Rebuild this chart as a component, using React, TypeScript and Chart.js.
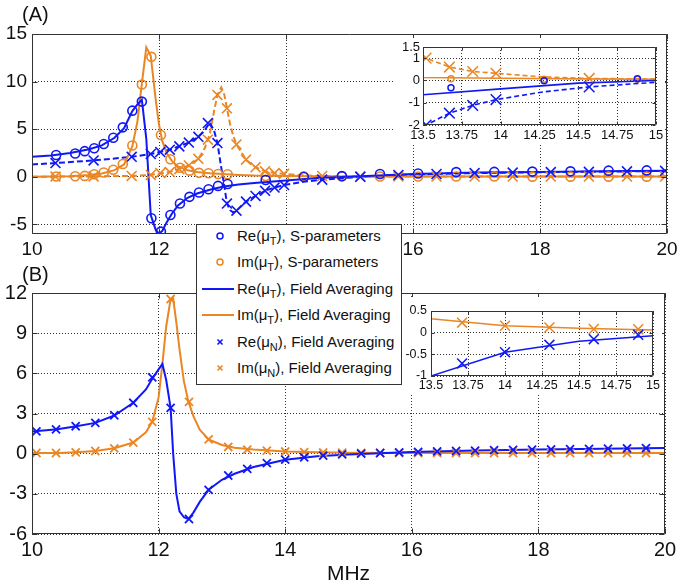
import React, { useEffect, useRef } from 'react';
import { Chart, registerables } from 'chart.js';

Chart.register(...registerables);

const BLUE = 'rgb(16,24,245)';
const ORANGE = 'rgb(234,134,36)';
const FONT = '"Liberation Sans", Arial, Helvetica, sans-serif';
const GRID = 'rgba(30,30,30,0.9)';
const FRAME = '#333';

// ---------- Panel A (S-parameters & field averaging) ----------
const sFreqA = [10.38, 10.68, 10.83, 10.98, 11.13, 11.28, 11.43, 11.58, 11.73, 11.88, 12.03, 12.18, 12.33, 12.48, 12.63, 12.78, 12.93, 13.08, 13.68, 14.28, 14.88, 15.48, 16.08, 16.68, 17.28, 17.88, 18.48, 19.08, 19.68];
const reSA = [2.3, 2.45, 2.7, 3.0, 3.45, 4.1, 5.2, 6.95, 7.9, -4.35, -5.75, -4.0, -2.8, -2.1, -1.65, -1.3, -0.95, -0.75, -0.33, -0.02, 0.08, 0.3, 0.35, 0.5, 0.52, 0.55, 0.58, 0.65, 0.68];
const imSA = [0.03, 0.07, 0.1, 0.28, 0.45, 0.75, 1.35, 3.3, 9.7, 12.6, 4.4, 1.85, 0.95, 0.65, 0.42, 0.38, 0.3, 0.27, 0.08, 0.05, 0.05, 0.04, 0.03, 0.03, 0.03, 0.02, 0.02, 0.02, 0.02];

const lineFreqA = [10.0, 10.3, 10.6, 10.9, 11.1, 11.3, 11.45, 11.58, 11.66, 11.73, 11.8, 11.87, 11.95, 12.0, 12.05, 12.12, 12.2, 12.3, 12.45, 12.6, 12.8, 13.0, 13.25, 13.5, 14.0, 14.5, 15.0, 16.0, 17.0, 18.0, 19.0, 20.0];
const reLineA = [2.1, 2.25, 2.5, 2.9, 3.3, 4.1, 5.1, 6.9, 7.6, 8.1, 4.0, -4.0, -5.6, -5.95, -5.7, -4.8, -3.9, -3.0, -2.2, -1.75, -1.35, -1.05, -0.8, -0.64, -0.38, -0.12, 0.0, 0.3, 0.45, 0.52, 0.58, 0.63];
const imLineA = [0.0, 0.03, 0.07, 0.2, 0.35, 0.7, 1.3, 3.2, 5.8, 9.8, 13.6, 12.7, 8.0, 5.5, 3.8, 2.5, 1.7, 1.1, 0.7, 0.5, 0.38, 0.3, 0.2, 0.13, 0.1, 0.07, 0.05, 0.04, 0.04, 0.04, 0.04, 0.04];

const nFreqA = [10.37, 10.97, 11.57, 11.87, 12.02, 12.17, 12.32, 12.47, 12.62, 12.77, 12.92, 13.07, 13.22, 13.37, 13.52, 13.67, 13.82, 13.97, 14.57, 15.17, 15.77, 16.37, 16.97, 17.57, 18.17, 18.77, 19.37, 19.97];
const reNA = [1.45, 1.72, 2.1, 2.4, 2.6, 2.85, 3.2, 3.6, 4.2, 5.65, 3.55, -2.8, -3.55, -2.6, -2.0, -1.47, -1.12, -0.86, -0.29, 0.0, 0.2, 0.3, 0.4, 0.45, 0.5, 0.53, 0.58, 0.63];
const imNA = [0.03, 0.05, 0.1, 0.2, 0.4, 0.5, 0.8, 1.2, 1.9, 3.9, 8.6, 7.2, 3.4, 1.8, 1.0, 0.6, 0.4, 0.32, 0.09, 0.05, 0.04, 0.03, 0.03, 0.03, 0.03, 0.03, 0.03, 0.03];

const nLineFreqA = [10.0, 10.37, 10.97, 11.57, 11.87, 12.17, 12.47, 12.62, 12.72, 12.8, 12.87, 12.92, 12.98, 13.03, 13.07, 13.12, 13.17, 13.22, 13.37, 13.52, 13.67, 13.82, 13.97, 14.27, 14.57, 15.17, 15.77, 16.37, 16.97, 17.57, 18.17, 18.77, 19.37, 20.0];
const reNLineA = [1.3, 1.45, 1.72, 2.1, 2.4, 2.85, 3.6, 4.2, 4.9, 5.7, 4.8, 3.55, 1.0, -1.0, -2.8, -3.5, -3.75, -3.55, -2.6, -2.0, -1.47, -1.12, -0.86, -0.52, -0.29, 0.0, 0.2, 0.3, 0.4, 0.45, 0.5, 0.53, 0.58, 0.63];
const imNLineA = [0.0, 0.03, 0.05, 0.1, 0.2, 0.5, 1.2, 1.9, 3.0, 4.5, 7.0, 8.6, 9.4, 8.6, 7.2, 5.5, 4.3, 3.4, 1.8, 1.0, 0.6, 0.4, 0.32, 0.16, 0.09, 0.05, 0.04, 0.03, 0.03, 0.03, 0.03, 0.03, 0.03, 0.03];

// ---------- Panel B (field averaging) ----------
const nFreqB = [10.07, 10.38, 10.69, 11.0, 11.3, 11.6, 11.9, 12.19, 12.48, 12.79, 13.1, 13.4, 13.71, 14.0, 14.3, 14.6, 14.9, 15.2, 15.5, 15.8, 16.1, 16.4, 16.7, 17.0, 17.3, 17.6, 17.9, 18.2, 18.5, 18.8, 19.1, 19.4, 19.7];
const reNB = [1.67, 1.82, 2.05, 2.3, 2.87, 3.8, 5.7, 3.42, -4.88, -2.7, -1.63, -1.13, -0.71, -0.45, -0.28, -0.15, -0.05, 0.0, 0.05, 0.1, 0.13, 0.17, 0.2, 0.23, 0.26, 0.28, 0.3, 0.32, 0.34, 0.36, 0.38, 0.4, 0.42];
const imNB = [0.05, 0.05, 0.1, 0.2, 0.4, 0.83, 2.37, 11.55, 3.87, 1.07, 0.5, 0.3, 0.23, 0.16, 0.12, 0.085, 0.08, 0.06, 0.05, 0.05, 0.05, 0.05, 0.05, 0.05, 0.05, 0.05, 0.05, 0.05, 0.05, 0.05, 0.05, 0.05, 0.05];

const lineFreqB = [10.0, 10.4, 10.7, 11.0, 11.3, 11.6, 11.8, 11.9, 12.0, 12.06, 12.12, 12.19, 12.23, 12.28, 12.33, 12.4, 12.47, 12.55, 12.65, 12.79, 13.0, 13.2, 13.5, 14.0, 14.5, 15.0, 16.0, 17.0, 18.0, 19.0, 20.0];
const reLineB = [1.65, 1.83, 2.05, 2.3, 2.85, 3.8, 4.8, 5.6, 6.3, 6.7, 5.5, 3.4, 0.0, -3.0, -4.3, -4.75, -4.88, -4.4, -3.6, -2.7, -1.95, -1.5, -1.0, -0.45, -0.2, -0.07, 0.12, 0.23, 0.31, 0.37, 0.43];
const imLineB = [0.05, 0.05, 0.1, 0.2, 0.4, 0.83, 1.6, 2.4, 4.2, 6.7, 9.5, 11.55, 11.6, 9.8, 7.8, 5.4, 3.9, 2.8, 1.8, 1.07, 0.65, 0.45, 0.32, 0.16, 0.1, 0.06, 0.05, 0.05, 0.05, 0.05, 0.05];

// ---------- Ticks ----------
const xTicksMain = [10, 12, 14, 16, 18, 20];
const yTicksA = [-5, 0, 5, 10, 15];
const yTicksB = [-6, -3, 0, 3, 6, 9, 12];
const xTicksInset = [13.5, 13.75, 14, 14.25, 14.5, 14.75, 15];
const yTicksInsetA = [-2, -1, 0, 1, 1.5];
const yTicksInsetB = [-1, -0.5, 0, 0.5];

// ---------- Legend labels ----------
const legendItems = [
  { part: 'Re', sub: 'T', tail: 'S-parameters', color: BLUE, kind: 'circle' },
  { part: 'Im', sub: 'T', tail: 'S-parameters', color: ORANGE, kind: 'circle' },
  { part: 'Re', sub: 'T', tail: 'Field Averaging', color: BLUE, kind: 'line' },
  { part: 'Im', sub: 'T', tail: 'Field Averaging', color: ORANGE, kind: 'line' },
  { part: 'Re', sub: 'N', tail: 'Field Averaging', color: BLUE, kind: 'cross' },
  { part: 'Im', sub: 'N', tail: 'Field Averaging', color: ORANGE, kind: 'cross' },
];

const xy = (xs: number[], ys: number[]) => xs.map((x, i) => ({ x, y: ys[i] }));

const lineDs = (xs: number[], ys: number[], color: string, width: number, dash: number[] = []) => ({
  data: xy(xs, ys),
  showLine: true,
  pointRadius: 0,
  borderColor: color,
  backgroundColor: color,
  borderWidth: width,
  borderDash: dash,
  fill: false,
});

const markDs = (xs: number[], ys: number[], color: string, style: string, r: number, w: number) => ({
  data: xy(xs, ys),
  showLine: false,
  pointStyle: style,
  pointRadius: r,
  borderColor: color,
  backgroundColor: 'rgba(0,0,0,0)',
  pointBorderColor: color,
  pointBackgroundColor: 'rgba(0,0,0,0)',
  pointBorderWidth: w,
});

const framePlugin = {
  id: 'frame',
  beforeDraw(chart: any, _a: any, opts: any) {
    if (opts && opts.bg) {
      const c = chart.ctx;
      c.save();
      c.fillStyle = '#ffffff';
      c.fillRect(0, 0, chart.width, chart.height);
      c.restore();
    }
  },
  afterDraw(chart: any, _a: any, opts: any) {
    const { ctx, chartArea: a, scales } = chart;
    const L = (opts && opts.tickLen) || 0;
    const l = Math.round(a.left) + 0.5;
    const r = Math.round(a.right) - 0.5;
    const t = Math.round(a.top) + 0.5;
    const b = Math.round(a.bottom) - 0.5;
    ctx.save();
    ctx.strokeStyle = FRAME;
    ctx.lineWidth = 1;
    ctx.beginPath();
    ctx.rect(l, t, r - l, b - t);
    scales.x.ticks.forEach((tk: any) => {
      const px = Math.round(scales.x.getPixelForValue(tk.value)) + 0.5;
      ctx.moveTo(px, b);
      ctx.lineTo(px, b - L);
      ctx.moveTo(px, t);
      ctx.lineTo(px, t + L);
    });
    scales.y.ticks.forEach((tk: any) => {
      const py = Math.round(scales.y.getPixelForValue(tk.value)) + 0.5;
      ctx.moveTo(l, py);
      ctx.lineTo(l + L, py);
      ctx.moveTo(r, py);
      ctx.lineTo(r - L, py);
    });
    ctx.stroke();
    ctx.restore();
  },
};

type Cfg = {
  datasets: any[];
  xMin: number; xMax: number; xTicks: number[];
  yMin: number; yMax: number; yTicks: number[];
  padTop: number; padRight: number; yW: number; xH: number;
  fontSize: number; xPad: number; yPad: number; tickLen: number; bg: boolean;
  title?: string;
};

function makeConfig(p: Cfg): any {
  return {
    type: 'scatter',
    data: { datasets: p.datasets },
    plugins: [framePlugin],
    options: {
      responsive: false,
      maintainAspectRatio: false,
      animation: false,
      events: [],
      layout: { padding: { left: 0, right: p.padRight, top: p.padTop, bottom: 0 } },
      plugins: {
        legend: { display: false },
        tooltip: { enabled: false },
        frame: { tickLen: p.tickLen, bg: p.bg },
      },
      scales: {
        x: {
          type: 'linear',
          position: 'bottom',
          min: p.xMin,
          max: p.xMax,
          afterBuildTicks: (s: any) => { s.ticks = p.xTicks.map((v) => ({ value: v })); },
          afterFit: (s: any) => { s.height = p.xH; s.paddingLeft = 0; s.paddingRight = 0; },
          grid: { color: GRID, lineWidth: 1, drawTicks: false },
          border: { display: false, dash: [1, 2] },
          ticks: {
            font: { family: FONT, size: p.fontSize },
            color: '#111',
            padding: p.xPad,
            maxRotation: 0,
            autoSkip: false,
            callback: (v: any) => String(v),
          },
          title: p.title
            ? { display: true, text: p.title, font: { family: FONT, size: 21 }, color: '#111', padding: { top: 0, bottom: 0 } }
            : { display: false },
        },
        y: {
          type: 'linear',
          position: 'left',
          min: p.yMin,
          max: p.yMax,
          afterBuildTicks: (s: any) => { s.ticks = p.yTicks.map((v) => ({ value: v })); },
          afterFit: (s: any) => { s.width = p.yW; s.paddingTop = 0; s.paddingBottom = 0; },
          grid: { color: GRID, lineWidth: 1, drawTicks: false },
          border: { display: false, dash: [1, 2] },
          ticks: {
            font: { family: FONT, size: p.fontSize },
            color: '#111',
            padding: p.yPad,
            autoSkip: false,
            callback: (v: any) => String(v),
          },
        },
      },
    },
  };
}

function datasetsA(s: { circ: number; cross: number; lw: number; mw: number; dash: number[] }) {
  return [
    markDs(sFreqA, reSA, BLUE, 'circle', s.circ, s.mw),
    markDs(sFreqA, imSA, ORANGE, 'circle', s.circ, s.mw),
    markDs(nFreqA, reNA, BLUE, 'crossRot', s.cross, s.mw),
    markDs(nFreqA, imNA, ORANGE, 'crossRot', s.cross, s.mw),
    lineDs(lineFreqA, reLineA, BLUE, s.lw),
    lineDs(lineFreqA, imLineA, ORANGE, s.lw),
    lineDs(nLineFreqA, reNLineA, BLUE, s.lw, s.dash),
    lineDs(nLineFreqA, imNLineA, ORANGE, s.lw, s.dash),
  ];
}

function datasetsB(s: { cross: number; lw: number; mw: number }) {
  return [
    markDs(nFreqB, reNB, BLUE, 'crossRot', s.cross, s.mw),
    markDs(nFreqB, imNB, ORANGE, 'crossRot', s.cross, s.mw),
    lineDs(lineFreqB, reLineB, BLUE, s.lw),
    lineDs(lineFreqB, imLineB, ORANGE, s.lw),
  ];
}

function ChartCanvas(props: { left: number; top: number; width: number; height: number; make: () => any }) {
  const ref = useRef<HTMLCanvasElement>(null);
  useEffect(() => {
    const chart = new Chart(ref.current as HTMLCanvasElement, props.make());
    return () => chart.destroy();
  }, []);
  return (
    <canvas
      ref={ref}
      width={props.width}
      height={props.height}
      style={{ position: 'absolute', left: props.left, top: props.top, width: props.width, height: props.height, display: 'block' }}
    />
  );
}

function LegendSymbol({ kind, color }: { kind: string; color: string }) {
  if (kind === 'line') {
    return <svg width={40} height={20} style={{ position: 'absolute', left: 0, top: 0 }}><line x1={3} y1={10} x2={35} y2={10} stroke={color} strokeWidth={2} /></svg>;
  }
  if (kind === 'circle') {
    return <svg width={40} height={20} style={{ position: 'absolute', left: 0, top: 0 }}><circle cx={21} cy={10} r={3} stroke={color} strokeWidth={1.5} fill="none" /></svg>;
  }
  return (
    <svg width={40} height={20} style={{ position: 'absolute', left: 0, top: 0 }}>
      <line x1={18.5} y1={7.5} x2={23.5} y2={12.5} stroke={color} strokeWidth={1.6} />
      <line x1={23.5} y1={7.5} x2={18.5} y2={12.5} stroke={color} strokeWidth={1.6} />
    </svg>
  );
}

function Legend() {
  return (
    <div
      style={{
        position: 'absolute', left: 196, top: 224, width: 206, height: 161,
        background: '#fff', border: '1px solid #333', boxSizing: 'border-box',
        fontFamily: FONT, fontSize: 15, color: '#111',
      }}
    >
      {legendItems.map((it, i) => (
        <div key={i} style={{ position: 'absolute', left: 2, top: 1 + i * 26.4, height: 20, width: 200 }}>
          <LegendSymbol kind={it.kind} color={it.color} />
          <div style={{ position: 'absolute', left: 38, top: 0, lineHeight: '20px', whiteSpace: 'nowrap' }}>
            {it.part}(μ<span style={{ fontSize: 11, position: 'relative', top: 4 }}>{it.sub}</span>), {it.tail}
          </div>
        </div>
      ))}
    </div>
  );
}

export default function App() {
  return (
    <div style={{ position: 'fixed', left: 0, top: 0, width: 681, height: 587, background: '#fff', overflow: 'hidden' }}>
      <ChartCanvas
        left={0} top={0} width={681} height={260}
        make={() => makeConfig({
          datasets: datasetsA({ circ: 4.5, cross: 7, lw: 2, mw: 1.6, dash: [6, 3] }),
          xMin: 10, xMax: 20, xTicks: xTicksMain, yMin: -6, yMax: 15, yTicks: yTicksA,
          padTop: 34, padRight: 14, yW: 32, xH: 26, fontSize: 19, xPad: 4, yPad: 5, tickLen: 5, bg: false,
        })}
      />
      <ChartCanvas
        left={0} top={260} width={681} height={327}
        make={() => makeConfig({
          datasets: datasetsB({ cross: 5.7, lw: 2, mw: 1.8 }),
          xMin: 10, xMax: 20, xTicks: xTicksMain, yMin: -6, yMax: 12, yTicks: yTicksB,
          padTop: 33, padRight: 16, yW: 32, xH: 53, fontSize: 20, xPad: 4, yPad: 5, tickLen: 5, bg: false,
          title: 'MHz',
        })}
      />
      <ChartCanvas
        left={393} top={38} width={272} height={107}
        make={() => makeConfig({
          datasets: datasetsA({ circ: 3, cross: 7.5, lw: 1.6, mw: 1.5, dash: [5, 3] }),
          xMin: 13.5, xMax: 15, xTicks: xTicksInset, yMin: -2, yMax: 1.5, yTicks: yTicksInsetA,
          padTop: 9, padRight: 9, yW: 30, xH: 20, fontSize: 13, xPad: 3, yPad: 3, tickLen: 3, bg: true,
        })}
      />
      <ChartCanvas
        left={401} top={297} width={261} height={97}
        make={() => makeConfig({
          datasets: datasetsB({ cross: 7, lw: 1.5, mw: 1.5 }),
          xMin: 13.5, xMax: 15, xTicks: xTicksInset, yMin: -1, yMax: 0.5, yTicks: yTicksInsetB,
          padTop: 14, padRight: 9, yW: 30, xH: 18, fontSize: 12.5, xPad: 2, yPad: 4, tickLen: 3, bg: true,
        })}
      />
      <Legend />
      <div style={{ position: 'absolute', left: 22, top: 3, fontFamily: FONT, fontSize: 20, lineHeight: '22px', color: '#111' }}>(A)</div>
      <div style={{ position: 'absolute', left: 22, top: 263, fontFamily: FONT, fontSize: 20, lineHeight: '22px', color: '#111' }}>(B)</div>
    </div>
  );
}
